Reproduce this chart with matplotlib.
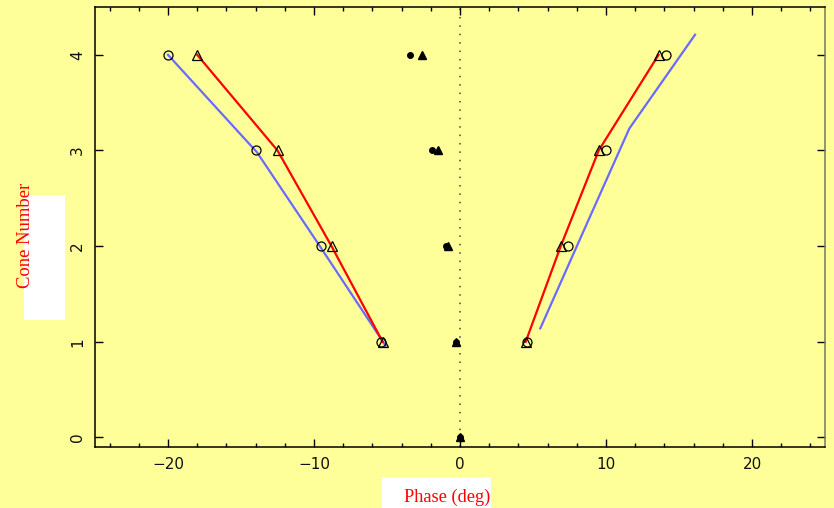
import numpy as np
import matplotlib.pyplot as plt
from matplotlib.patches import Rectangle
from matplotlib.ticker import MultipleLocator

bg = '#ffff99'

# cone number per row of points
cones = [1, 2, 3, 4]

# left-hand cone (open markers + lines)
left_tri_x = [-5.3, -8.8, -12.5, -18.0]
left_circ_x = [-5.4, -9.5, -14.0, -20.0]
left_blue_x = [-5.1, -9.6, -13.9, -20.0]
left_blue_y = [0.96, 2.0, 2.98, 4.0]

# right-hand cone
right_tri_x = [4.5, 6.9, 9.5, 13.6]
right_circ_x = [4.6, 7.4, 10.0, 14.1]
right_blue_x = [5.5, 8.5, 11.6, 16.1]
right_blue_y = [1.14, 2.17, 3.23, 4.21]

# core points (filled markers)
core_y = [0, 1, 2, 3, 4]
core_circ_x = [0.0, -0.3, -0.95, -1.9, -3.4]
core_tri_x = [0.0, -0.25, -0.8, -1.5, -2.6]

fig = plt.figure(figsize=(8.34, 5.08), dpi=100, facecolor=bg)
ax = fig.add_axes([95/834, 1-447/508, 730/834, 440/508])
ax.set_facecolor(bg)

ax.axvline(0, color='#444444', lw=1.1, ls=(0, (1, 4.5)), zorder=1)

ax.plot(left_blue_x, left_blue_y, color='#6a6aff', lw=1.6, zorder=2)
ax.plot(right_blue_x, right_blue_y, color='#6a6aff', lw=1.6, zorder=2)
ax.plot(left_tri_x, cones, color='#ff0000', lw=1.6, zorder=3)
ax.plot(right_tri_x, cones, color='#ff0000', lw=1.6, zorder=3)

for xs in (left_tri_x, right_tri_x):
    ax.plot(xs, cones, ls='none', marker='^', ms=7, mfc='none', mec='black', mew=0.9, zorder=4)
for xs in (left_circ_x, right_circ_x):
    ax.plot(xs, cones, ls='none', marker='o', ms=6.5, mfc='none', mec='black', mew=0.9, zorder=4)

ax.plot(core_circ_x, core_y, ls='none', marker='o', ms=4, color='black', zorder=4)
ax.plot(core_tri_x, core_y, ls='none', marker='^', ms=5.5, color='black', zorder=4)

ax.set_xlim(-25, 25)
ax.set_ylim(-0.1, 4.5)
ax.xaxis.set_major_locator(MultipleLocator(10))
ax.xaxis.set_minor_locator(MultipleLocator(2))
ax.yaxis.set_major_locator(MultipleLocator(1))
ax.tick_params(which='both', direction='in', top=True, right=True, color='black')
ax.tick_params(which='major', length=6, width=1, pad=7, labelsize=11, labelcolor='#111111')
ax.tick_params(which='minor', length=3, width=1)
ax.tick_params(axis='y', labelrotation=90)
for lab in ax.get_yticklabels():
    lab.set_va('center')
ax.spines['right'].set_color('#777760')
for s in ax.spines.values():
    s.set_linewidth(1.1)

# white boxes behind the axis titles
fig.patches.append(Rectangle((24/834, 1-320/508), 41/834, 125/508, transform=fig.transFigure,
                             facecolor='white', edgecolor='none', zorder=0))
fig.patches.append(Rectangle((382/834, 0), 109/834, 31/508, transform=fig.transFigure,
                             facecolor='white', edgecolor='none', zorder=0))

fig.text(447/834, 1-497/508, 'Phase (deg)', color='red', fontsize=13.2,
         family='Liberation Serif', ha='center', va='center')
fig.text(26/834, 1-235/508, 'Cone Number', color='red', fontsize=13.4,
         family='Liberation Serif', ha='center', va='center', rotation=90)

fig.savefig('out.png', dpi=100, facecolor=bg)
